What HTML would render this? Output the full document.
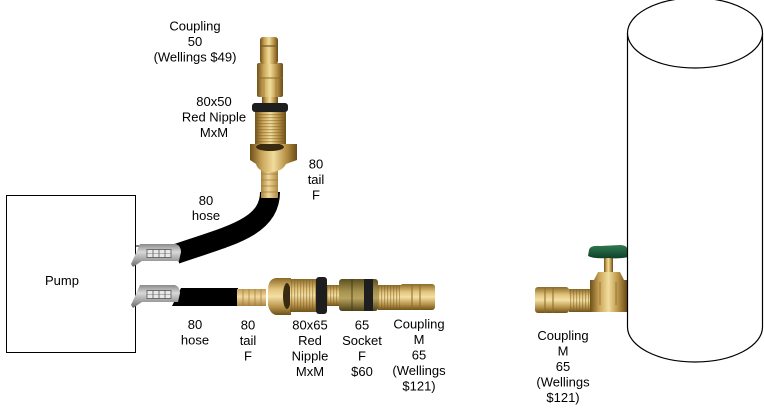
<!DOCTYPE html>
<html><head><meta charset="utf-8"><style>
html,body{margin:0;padding:0;background:#fff;}
svg{display:block;}
text{font-family:"Liberation Sans",Arial,sans-serif;font-size:13px;fill:#000;}
</style></head><body>
<svg width="764" height="413" viewBox="0 0 764 413" xmlns="http://www.w3.org/2000/svg">
<defs>
<linearGradient id="bx" x1="0" y1="0" x2="1" y2="0">
<stop offset="0" stop-color="#6e5018"/><stop offset="0.25" stop-color="#c9a458"/><stop offset="0.5" stop-color="#f1dd9c"/><stop offset="0.78" stop-color="#b38d42"/><stop offset="1" stop-color="#6a4c18"/>
</linearGradient>
<linearGradient id="by" x1="0" y1="0" x2="0" y2="1">
<stop offset="0" stop-color="#8a6a28"/><stop offset="0.3" stop-color="#e2c47c"/><stop offset="0.5" stop-color="#f3e0a4"/><stop offset="0.78" stop-color="#b8944a"/><stop offset="1" stop-color="#6e521c"/>
</linearGradient>
<linearGradient id="barbx" x1="0" y1="0" x2="1" y2="0">
<stop offset="0" stop-color="#a8843e"/><stop offset="0.45" stop-color="#f2d79a"/><stop offset="1" stop-color="#b08a44"/>
</linearGradient>
<linearGradient id="barby" x1="0" y1="0" x2="0" y2="1">
<stop offset="0" stop-color="#c29c56"/><stop offset="0.45" stop-color="#f3dba0"/><stop offset="1" stop-color="#a98442"/>
</linearGradient>
<linearGradient id="sock" x1="0" y1="0" x2="0" y2="1">
<stop offset="0" stop-color="#5c5020"/><stop offset="0.4" stop-color="#a89450"/><stop offset="0.6" stop-color="#b8a460"/><stop offset="1" stop-color="#4e4218"/>
</linearGradient>
<linearGradient id="gray" x1="0" y1="0" x2="0" y2="1">
<stop offset="0" stop-color="#8a8a8a"/><stop offset="0.35" stop-color="#d8d8d8"/><stop offset="0.7" stop-color="#a0a0a0"/><stop offset="1" stop-color="#6a6a6a"/>
</linearGradient>
<linearGradient id="green" x1="0" y1="0" x2="0" y2="1">
<stop offset="0" stop-color="#2f7a52"/><stop offset="1" stop-color="#0f4028"/>
</linearGradient>
<pattern id="thrx" width="30" height="3" patternUnits="userSpaceOnUse">
<rect width="30" height="1.2" fill="#7a5a20" opacity="0.45"/>
</pattern>
<pattern id="thry" width="3" height="30" patternUnits="userSpaceOnUse">
<rect width="1.2" height="30" fill="#7a5a20" opacity="0.45"/>
</pattern>
</defs>

<!-- Pump box -->
<rect x="6.5" y="195.5" width="129" height="157" fill="#fff" stroke="#000" stroke-width="1"/>
<line x1="135" y1="246" x2="142" y2="246" stroke="#000" stroke-width="1"/>
<text x="45" y="285">Pump</text>

<!-- Upper hose -->
<path d="M270,192 C270,228 228,236 176,254" fill="none" stroke="#000" stroke-width="20"/>
<!-- Lower hose -->
<polygon points="172,306 181,288 238,288 238,306" fill="#000"/>

<!-- Quick connect fittings -->
<g>
<path d="M140,244 L176,244 Q181,246 181,252 L179,261 L142,261 L133,267 L131,264 Z" fill="url(#gray)"/>
<rect x="147" y="249.5" width="24" height="8" fill="#e8e8e8" stroke="#555" stroke-width="0.8"/>
<line x1="153" y1="249.5" x2="153" y2="257.5" stroke="#555" stroke-width="0.8"/>
<line x1="159" y1="249.5" x2="159" y2="257.5" stroke="#555" stroke-width="0.8"/>
<line x1="165" y1="249.5" x2="165" y2="257.5" stroke="#555" stroke-width="0.8"/>
<line x1="147" y1="253.5" x2="171" y2="253.5" stroke="#777" stroke-width="0.6"/>
</g>
<g>
<path d="M140,285 L175,285 Q180,287 180,293 L178,302 L142,302 L133,308 L131,305 Z" fill="url(#gray)"/>
<rect x="147" y="290.5" width="24" height="8" fill="#e8e8e8" stroke="#555" stroke-width="0.8"/>
<line x1="153" y1="290.5" x2="153" y2="298.5" stroke="#555" stroke-width="0.8"/>
<line x1="159" y1="290.5" x2="159" y2="298.5" stroke="#555" stroke-width="0.8"/>
<line x1="165" y1="290.5" x2="165" y2="298.5" stroke="#555" stroke-width="0.8"/>
<line x1="147" y1="294.5" x2="171" y2="294.5" stroke="#777" stroke-width="0.6"/>
</g>

<!-- Vertical assembly -->
<g>
<!-- barb -->
<rect x="261" y="168" width="17" height="30" fill="url(#barbx)"/>
<g stroke="#a07a36" stroke-width="1" opacity="0.7">
<line x1="261" y1="174" x2="278" y2="174"/><line x1="261" y1="180" x2="278" y2="180"/><line x1="261" y1="186" x2="278" y2="186"/><line x1="261" y1="192" x2="278" y2="192"/>
</g>
<!-- tail body -->
<path d="M250,144 L297,144 L297,160 L286,164 Q282,172 270,172 Q258,172 256,164 L250,160 Z" fill="url(#bx)"/>
<ellipse cx="270" cy="147" rx="14" ry="4" fill="#3a2a10"/>
<!-- threads -->
<rect x="255" y="112" width="31" height="32" fill="url(#bx)"/>
<rect x="255" y="112" width="31" height="32" fill="url(#thrx)"/>
<!-- black ring -->
<rect x="252" y="103" width="36" height="9" rx="3" fill="#1e1e1e"/>
<rect x="262" y="97" width="16" height="6" fill="url(#bx)"/>
<!-- coupling body -->
<rect x="257" y="63" width="26" height="34" rx="2" fill="url(#bx)"/>
<line x1="257" y1="78" x2="283" y2="78" stroke="#8a6a28" stroke-width="1"/>
<line x1="264" y1="78" x2="264" y2="97" stroke="#8a6a28" stroke-width="0.8" opacity="0.6"/>
<line x1="276" y1="78" x2="276" y2="97" stroke="#8a6a28" stroke-width="0.8" opacity="0.6"/>
<!-- coupling tip -->
<rect x="260" y="37" width="18" height="27" rx="3" fill="url(#bx)"/>
<line x1="260" y1="46" x2="278" y2="46" stroke="#7a5a20" stroke-width="1.2"/>
</g>

<!-- Horizontal assembly -->
<g>
<!-- barb -->
<rect x="237" y="289" width="29" height="17" fill="url(#barby)"/>
<g stroke="#a07a36" stroke-width="1" opacity="0.7">
<line x1="243" y1="289" x2="243" y2="306"/><line x1="249" y1="289" x2="249" y2="306"/><line x1="255" y1="289" x2="255" y2="306"/><line x1="261" y1="289" x2="261" y2="306"/>
</g>
<!-- tail body -->
<path d="M268,290 Q268,279 276,278 L291,278 L291,315 L276,315 Q270,314 268,305 Z" fill="url(#by)"/>
<ellipse cx="287" cy="296" rx="4" ry="13" fill="#3a2a10"/>
<!-- nipple threads -->
<rect x="290" y="279" width="27" height="33" fill="url(#by)"/>
<rect x="290" y="279" width="27" height="33" fill="url(#thry)"/>
<!-- black ring -->
<rect x="316" y="277" width="11" height="37" rx="3" fill="#1e1e1e"/>
<!-- small threads -->
<rect x="327" y="285" width="13" height="21" fill="url(#by)"/>
<rect x="327" y="285" width="13" height="21" fill="url(#thry)"/>
<!-- socket -->
<rect x="339" y="279" width="39" height="32" rx="3" fill="url(#sock)"/>
<rect x="364" y="279" width="9" height="32" fill="#1e1e1e"/>
<line x1="352" y1="279" x2="352" y2="311" stroke="#3e3410" stroke-width="0.8"/>
<!-- coupling M -->
<rect x="378" y="285" width="24" height="25" fill="url(#by)"/>
<rect x="378" y="285" width="24" height="25" fill="url(#thry)"/>
<rect x="400" y="284" width="35" height="26" rx="3" fill="url(#by)"/>
<line x1="412" y1="284" x2="412" y2="310" stroke="#8a6a28" stroke-width="1"/>
<line x1="420" y1="284" x2="420" y2="310" stroke="#8a6a28" stroke-width="1"/>
</g>

<!-- Valve assembly right -->
<g>
<rect x="535" y="287" width="34" height="26" rx="3" fill="url(#by)"/>
<line x1="545" y1="287" x2="545" y2="313" stroke="#8a6a28" stroke-width="1"/>
<line x1="553" y1="287" x2="553" y2="313" stroke="#8a6a28" stroke-width="1"/>
<rect x="569" y="289" width="23" height="23" fill="url(#by)"/>
<rect x="569" y="289" width="23" height="23" fill="url(#thry)"/>
<rect x="604" y="256" width="9" height="18" fill="url(#bx)"/>
<path d="M598,272 L620,272 L624,280 L627,280 L627,312 L590,312 L590,280 L594,280 Z" fill="url(#bx)"/>
<line x1="600" y1="282" x2="600" y2="305" stroke="#7a5a20" stroke-width="1" opacity="0.6"/>
<line x1="616" y1="282" x2="616" y2="305" stroke="#7a5a20" stroke-width="1" opacity="0.6"/>
<path d="M589,250 Q590,245 600,246 L620,245 Q627,245 628,250 L628,257 Q620,259 608,258 Q594,259 588,256 Z" fill="url(#green)"/>
</g>

<!-- Tank -->
<path d="M627.5,33 L627.5,327 A67.5,35 0 0 0 762.5,327 L762.5,33" fill="#fff" stroke="#000" stroke-width="1.2"/>
<ellipse cx="695" cy="33" rx="67.5" ry="35" fill="#fff" stroke="#000" stroke-width="1.2"/>

<!-- Labels -->
<g text-anchor="middle">
<text x="195" y="30.5">Coupling</text>
<text x="195" y="46">50</text>
<text x="195" y="61.5">(Wellings $49)</text>

<text x="214" y="106">80x50</text>
<text x="214" y="121.5">Red Nipple</text>
<text x="214" y="137">MxM</text>

<text x="316" y="168.5">80</text>
<text x="316" y="184">tail</text>
<text x="316" y="199.5">F</text>

<text x="206" y="205">80</text>
<text x="206" y="220">hose</text>

<text x="195" y="329">80</text>
<text x="195" y="344.5">hose</text>

<text x="248" y="329.5">80</text>
<text x="248" y="345">tail</text>
<text x="248" y="360.5">F</text>

<text x="310" y="329.5">80x65</text>
<text x="310" y="345">Red</text>
<text x="310" y="360.5">Nipple</text>
<text x="310" y="376">MxM</text>

<text x="362" y="329.5">65</text>
<text x="362" y="345">Socket</text>
<text x="362" y="360.5">F</text>
<text x="362" y="376">$60</text>

<text x="419" y="328.5">Coupling</text>
<text x="419" y="344">M</text>
<text x="419" y="359.5">65</text>
<text x="419" y="375">(Wellings</text>
<text x="419" y="390.5">$121)</text>

<text x="563" y="340">Coupling</text>
<text x="563" y="355.5">M</text>
<text x="563" y="371">65</text>
<text x="563" y="386.5">(Wellings</text>
<text x="563" y="402">$121)</text>
</g>
</svg>
</body></html>
